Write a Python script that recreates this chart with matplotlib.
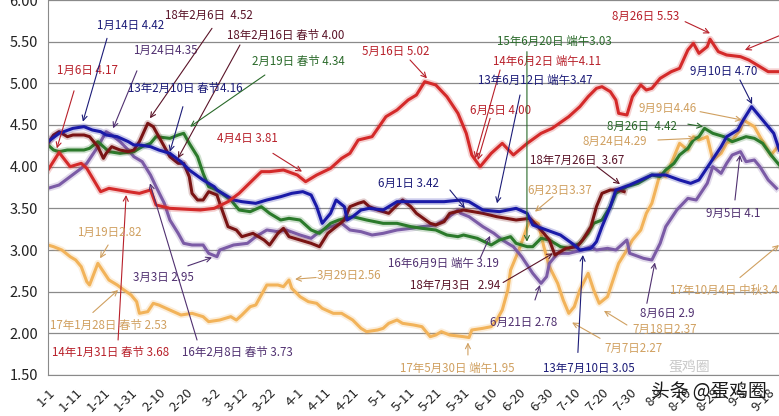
import matplotlib
matplotlib.use('Agg')
import matplotlib.pyplot as plt
import matplotlib.patheffects as pe

plt.rcParams['font.family'] = ['Noto Sans CJK SC', 'DejaVu Sans']

# x axis: day of year counted from 1-1, labels every 10 days
tick_labels = ['1-1', '1-11', '1-21', '1-31', '2-10', '2-20', '3-2', '3-12', '3-22',
               '4-1', '4-11', '4-21', '5-1', '5-11', '5-21', '5-31', '6-10', '6-20',
               '6-30', '7-10', '7-20', '7-30', '8-9', '8-19', '8-29', '9-8', '9-18']
y_ticks = [1.5, 2.0, 2.5, 3.0, 3.5, 4.0, 4.5, 5.0, 5.5, 6.0]

# 2014 (red)
days_2014 = [0, 4, 8, 12, 14, 19, 22, 29, 33, 37,
             39, 44, 55, 60, 65, 69, 77, 80, 85, 90,
             93, 97, 102, 106, 109, 112, 117, 122, 126, 130,
             133, 136, 140, 144, 148, 151, 153, 156, 160, 164,
             168, 173, 178, 182, 188, 192, 195, 198, 200, 203,
             205, 206, 209, 211, 214, 216, 218, 221, 225, 228,
             231, 233, 235, 238, 239, 242, 245, 250, 253, 257,
             260, 264]
price_2014 = [3.96, 4.17, 4.00, 4.04, 3.98, 3.70, 3.74, 3.70, 3.68, 3.72,
              3.54, 3.50, 3.48, 3.50, 3.58, 3.68, 3.94, 3.94, 3.96, 3.90,
              3.82, 3.90, 3.98, 4.10, 4.16, 4.32, 4.36, 4.60, 4.68, 4.80,
              4.86, 5.02, 4.98, 4.84, 4.64, 4.40, 4.14, 4.00, 4.16, 4.28,
              4.14, 4.28, 4.40, 4.46, 4.60, 4.72, 4.84, 4.94, 4.96, 4.90,
              4.80, 4.64, 4.62, 4.84, 4.98, 4.92, 4.94, 5.06, 5.14, 5.18,
              5.40, 5.48, 5.36, 5.44, 5.53, 5.38, 5.34, 5.32, 5.28, 5.20,
              5.14, 5.14]

# 2013 (navy)
days_2013 = [0, 4, 9, 13, 16, 19, 21, 25, 29, 31,
             33, 37, 40, 44, 48, 51, 56, 60, 61, 67,
             70, 75, 79, 84, 88, 92, 95, 97, 99, 102,
             104, 107, 108, 110, 113, 116, 121, 126, 131, 143,
             149, 152, 157, 163, 169, 173, 175, 180, 185, 190,
             192, 196, 198, 200, 203, 205, 210, 214, 218, 223,
             228, 232, 235, 239, 243, 245, 249, 251, 254, 257,
             260, 262, 264]
price_2013 = [4.30, 4.40, 4.46, 4.48, 4.44, 4.42, 4.38, 4.36, 4.30, 4.26,
              4.26, 4.24, 4.20, 4.16, 4.06, 3.96, 3.84, 3.76, 3.72, 3.60,
              3.58, 3.56, 3.60, 3.64, 3.68, 3.70, 3.66, 3.52, 3.32, 3.44,
              3.60, 3.52, 3.36, 3.40, 3.48, 3.50, 3.48, 3.58, 3.58, 3.58,
              3.60, 3.58, 3.48, 3.46, 3.50, 3.44, 3.30, 3.24, 3.18, 3.06,
              3.00, 3.02, 3.10, 3.28, 3.52, 3.72, 3.78, 3.84, 3.90, 3.90,
              3.84, 3.80, 3.84, 4.04, 4.24, 4.36, 4.44, 4.56, 4.72, 4.60,
              4.48, 4.40, 4.20]

# 2018 (maroon)
days_2018 = [0, 2, 4, 7, 9, 13, 15, 18, 20, 21,
             23, 26, 29, 31, 33, 36, 38, 40, 42, 44,
             47, 49, 51, 52, 54, 56, 58, 61, 62, 65,
             68, 70, 74, 78, 80, 83, 85, 87, 91, 95,
             98, 101, 104, 107, 109, 112, 114, 116, 119, 123,
             126, 128, 131, 133, 138, 140, 143, 145, 150, 157,
             162, 169, 174, 178, 181, 183, 187, 191, 193, 196,
             198, 200, 203, 206, 208]
price_2018 = [4.28, 4.38, 4.42, 4.36, 4.38, 4.38, 4.36, 4.24, 4.10, 4.16,
              4.24, 4.20, 4.18, 4.20, 4.30, 4.52, 4.48, 4.36, 4.24, 4.12,
              4.04, 4.04, 3.88, 3.68, 3.60, 3.60, 3.70, 3.66, 3.56, 3.28,
              3.24, 3.16, 3.20, 3.12, 3.06, 3.20, 3.26, 3.16, 3.12, 3.08,
              3.04, 3.20, 3.28, 3.36, 3.52, 3.56, 3.58, 3.52, 3.48, 3.44,
              3.54, 3.60, 3.52, 3.44, 3.32, 3.30, 3.34, 3.44, 3.48, 3.44,
              3.40, 3.36, 3.38, 3.24, 3.12, 2.94, 3.02, 3.04, 3.12, 3.28,
              3.52, 3.68, 3.72, 3.72, 3.70]

# 2015 (green)
days_2015 = [0, 2, 4, 7, 13, 15, 18, 20, 22, 26,
             31, 34, 37, 39, 44, 47, 49, 51, 54, 56,
             58, 61, 66, 69, 73, 77, 80, 84, 87, 91,
             95, 98, 102, 105, 110, 115, 121, 126, 131, 135,
             140, 144, 148, 150, 155, 160, 163, 167, 169, 173,
             175, 178, 181, 185, 188, 192, 195, 197, 200, 203,
             205, 209, 213, 218, 221, 223, 226, 228, 231, 233,
             235, 237, 240, 244, 247, 252, 255, 258, 261, 264]
price_2015 = [4.26, 4.20, 4.18, 4.20, 4.20, 4.22, 4.30, 4.24, 4.18, 4.16,
              4.18, 4.24, 4.28, 4.36, 4.34, 4.38, 4.40, 4.28, 4.12, 3.92,
              3.76, 3.72, 3.60, 3.48, 3.46, 3.52, 3.44, 3.36, 3.38, 3.36,
              3.24, 3.20, 3.32, 3.36, 3.40, 3.36, 3.32, 3.32, 3.28, 3.26,
              3.24, 3.18, 3.16, 3.18, 3.14, 3.06, 3.12, 3.16, 3.08, 3.04,
              3.04, 3.14, 3.12, 3.04, 3.02, 3.08, 3.20, 3.32, 3.36, 3.52,
              3.68, 3.76, 3.80, 3.90, 3.88, 3.96, 4.04, 4.14, 4.22, 4.32,
              4.36, 4.46, 4.40, 4.36, 4.30, 4.36, 4.34, 4.28, 4.14, 4.02]

# 2016 (purple)
days_2016 = [0, 4, 8, 12, 14, 18, 20, 21, 23, 26,
             29, 31, 34, 37, 39, 42, 44, 47, 49, 52,
             56, 58, 61, 62, 67, 72, 75, 79, 83, 86,
             91, 95, 98, 102, 106, 109, 113, 117, 121, 126,
             131, 135, 140, 144, 148, 149, 152, 157, 161, 164,
             168, 171, 175, 178, 180, 181, 184, 188, 193, 196,
             198, 202, 205, 209, 210, 215, 218, 221, 223, 227,
             231, 234, 238, 240, 243, 245, 247, 250, 252, 255,
             257, 260, 263]
price_2016 = [3.74, 3.78, 3.88, 3.98, 4.04, 4.24, 4.36, 4.42, 4.38, 4.30,
              4.20, 4.12, 4.06, 3.90, 3.76, 3.56, 3.36, 3.20, 3.08, 3.06,
              3.06, 2.96, 2.92, 3.00, 3.06, 3.08, 3.16, 3.24, 3.22, 3.24,
              3.18, 3.14, 3.22, 3.28, 3.32, 3.24, 3.22, 3.18, 3.20, 3.24,
              3.26, 3.28, 3.30, 3.38, 3.48, 3.44, 3.40, 3.28, 3.20, 3.12,
              3.04, 2.92, 2.72, 2.60, 2.68, 2.84, 2.96, 2.96, 3.00, 3.04,
              3.00, 3.02, 3.00, 3.12, 2.96, 2.90, 2.88, 3.08, 3.28, 3.48,
              3.62, 3.60, 3.80, 4.00, 3.92, 4.04, 4.14, 4.18, 4.06, 4.08,
              4.00, 3.84, 3.74]

# 2017 (orange)
days_2017 = [0, 2, 5, 8, 10, 12, 14, 15, 18, 20,
             22, 25, 27, 30, 32, 33, 36, 38, 40, 44,
             48, 52, 56, 58, 62, 66, 68, 70, 73, 75,
             78, 79, 83, 85, 87, 88, 91, 94, 97, 99,
             103, 106, 110, 113, 115, 119, 121, 123, 126, 128,
             132, 135, 138, 140, 142, 145, 150, 152, 153, 157,
             160, 162, 164, 166, 167, 170, 173, 174, 177, 179,
             181, 184, 186, 188, 190, 192, 195, 197, 199, 202,
             204, 206, 209, 211, 214, 216, 218, 221, 223, 226,
             228, 231, 233, 235, 238, 240, 243, 245, 247, 250,
             251, 255, 257, 261, 264]
price_2017 = [3.06, 3.04, 3.00, 2.92, 2.88, 2.80, 2.62, 2.58, 2.84, 2.74,
              2.64, 2.58, 2.53, 2.46, 2.38, 2.24, 2.26, 2.36, 2.34, 2.28,
              2.22, 2.24, 2.20, 2.14, 2.16, 2.20, 2.16, 2.22, 2.32, 2.34,
              2.52, 2.58, 2.58, 2.56, 2.64, 2.54, 2.44, 2.38, 2.36, 2.30,
              2.24, 2.24, 2.16, 2.06, 2.02, 2.04, 2.06, 2.12, 2.16, 2.12,
              2.10, 2.08, 1.96, 1.98, 2.02, 1.98, 1.96, 1.95, 2.04, 2.06,
              2.08, 2.16, 2.28, 2.52, 2.76, 3.00, 3.28, 3.36, 3.32, 3.04,
              2.80, 2.60, 2.40, 2.24, 2.32, 2.52, 2.72, 2.52, 2.36, 2.44,
              2.64, 2.84, 3.00, 3.12, 3.24, 3.44, 3.56, 3.92, 3.88, 4.12,
              4.28, 4.20, 4.36, 4.32, 4.36, 4.08, 4.16, 4.28, 4.32, 4.44,
              4.56, 4.48, 4.36, 4.14, 4.26]

# text colours for the callouts
c_red, c_navy, c_maroon = '#b8202a', '#1c1c78', '#5a1428'
c_green, c_purple, c_tan = '#2a6a2a', '#503070', '#d0a060'

# callouts: text, colour, text position, arrow start, arrow end (day, price)
notes = [
    ('1月6日 4.17', c_red, (3.2, 5.16), (9.4, 4.91), (3.2, 4.22)),
    ('1月14日 4.42', c_navy, (17.7, 5.70), (21.3, 5.54), (12.6, 4.54)),
    ('1月24日4.35', c_purple, (30.7, 5.40), (32.1, 5.15), (23.5, 4.46)),
    ('18年2月6日  4.52', c_maroon, (42.2, 5.82), (59.2, 5.66), (36.8, 4.58)),
    ('18年2月16日 春节 4.00', c_maroon, (64.6, 5.58), (69.3, 5.46), (46.9, 4.10)),
    ('13年2月10日 春节4.16', c_navy, (28.9, 4.94), (48.7, 4.72), (44.0, 4.18)),
    ('2月19日 春节 4.34', c_green, (73.6, 5.26), (78.3, 5.10), (51.3, 4.48)),
    ('4月4日 3.81', c_red, (61.0, 4.34), (81.2, 4.16), (91.7, 3.94)),
    ('5月16日 5.02', c_red, (113.4, 5.38), (130.7, 5.28), (136.8, 5.06)),
    ('6月5日 4.00', c_red, (152.3, 4.68), (159.6, 4.58), (155.2, 4.08)),
    ('14年6月2日 端午4.11', c_red, (160.6, 5.26), (163.2, 5.16), (154.2, 4.10)),
    ('13年6月12日 端午3.47', c_navy, (155.2, 5.04), (170.4, 4.86), (162.1, 3.56)),
    ('15年6月20日 端午3.03', c_green, (162.0, 5.50), (172.9, 5.38), (172.9, 3.10)),
    ('6月1日 3.42', c_navy, (119.0, 3.80), (145.1, 3.72), (150.5, 3.50)),
    ('16年6月9日 端午 3.19', c_purple, (122.7, 2.84), (156.0, 2.90), (159.6, 3.17)),
    ('18年7月26日  3.67', c_maroon, (174.0, 4.08), (198.2, 4.00), (206.5, 3.79)),
    ('6月23日3.37', c_tan, (173.0, 3.71), (182.3, 3.64), (175.8, 3.46)),
    ('18年7月3日   2.94', c_maroon, (130.7, 2.57), (164.3, 2.61), (182.3, 2.96)),
    ('6月21日 2.78', c_purple, (159.6, 2.13), (175.8, 2.40), (177.6, 2.58)),
    ('7月7日2.27', c_tan, (201.0, 1.82), (199.3, 1.94), (189.2, 2.13)),
    ('7月18日2.37', c_tan, (211.0, 2.05), (209.0, 2.10), (200.7, 2.27)),
    ('13年7月10日 3.05', c_navy, (178.7, 1.58), (191.3, 1.77), (193.1, 2.94)),
    ('8月6日 2.9', c_purple, (213.7, 2.24), (216.2, 2.36), (219.1, 2.85)),
    ('17年10月4日 中秋3.4', c_tan, (224.5, 2.51), (249.8, 2.67), (263.9, 3.06)),
    ('9月5日 4.1', c_purple, (237.5, 3.44), (248.0, 3.60), (249.8, 4.14)),
    ('9月9日4.46', c_tan, (213.0, 4.70), (235.4, 4.66), (250.5, 4.56)),
    ('8月26日  4.42', c_green, (201.8, 4.48), (231.0, 4.51), (236.5, 4.48)),
    ('8月24日4.29', c_tan, (192.8, 4.30), (220.2, 4.32), (233.6, 4.34)),
    ('9月10日 4.70', c_navy, (231.8, 5.14), (249.8, 5.04), (254.2, 4.75)),
    ('8月26日 5.53', c_red, (203.6, 5.80), (230.0, 5.74), (239.0, 5.60)),
    ('', c_red, (263.9, 5.57), (263.9, 5.57), (251.6, 5.40)),
    ('3月3日 2.95', c_purple, (30.7, 2.67), (50.5, 2.81), (59.2, 2.91)),
    ('3月29日2.56', c_tan, (97.1, 2.69), (96.8, 2.67), (89.2, 2.65)),
    ('17年1月28日 春节 2.53', c_tan, (0.7, 2.10), (16.2, 2.25), (25.3, 2.52)),
    ('14年1月31日 春节 3.68', c_red, (1.4, 1.77), (25.3, 1.92), (28.2, 3.66)),
    ('16年2月8日 春节 3.73', c_purple, (48.4, 1.77), (53.8, 1.92), (36.8, 3.80)),
    ('1月19日2.82', c_tan, (10.5, 3.21), (21.7, 3.06), (18.8, 2.90)),
    ('17年5月30日 端午1.95', c_tan, (127.0, 1.58), (151.6, 1.74), (151.6, 1.89)),
]

fig = plt.figure(figsize=(7.79, 4.16), dpi=100)
ax = fig.add_axes([48 / 779, 41 / 416, 731 / 779, 375 / 416])

series = [
    (days_2017, price_2017, '#f2b35a'),
    (days_2016, price_2016, '#7b5ba6'),
    (days_2015, price_2015, '#2b7a2b'),
    (days_2018, price_2018, '#7a1414'),
    (days_2013, price_2013, '#1a1aa8'),
    (days_2014, price_2014, '#d42a2a'),
]
for days, prices, color in series:
    ax.plot(days, prices, color=color, linewidth=2.2, solid_joinstyle='round',
            path_effects=[pe.Stroke(linewidth=4.8, foreground=color, alpha=0.22), pe.Normal()])

# callout texts and arrows
for text, color, txt_pos, start, end in notes:
    if text:
        ax.text(txt_pos[0], txt_pos[1], text, color=color, fontsize=8.3,
                ha='left', va='center')
    ax.annotate('', xy=end, xytext=start,
                arrowprops=dict(arrowstyle='->', color=color, lw=0.8,
                                shrinkA=0, shrinkB=0, mutation_scale=9))

# axes, grid and ticks
ax.set_xlim(0, 263.9)
ax.set_ylim(1.5, 6.0)
ax.set_yticks(y_ticks)
ax.set_yticklabels([f'{v:.2f}' for v in y_ticks], fontsize=10.5)
ax.set_xticks([i * 10 for i in range(len(tick_labels))])
ax.set_xticklabels(tick_labels, rotation=45, ha='right', rotation_mode='anchor', fontsize=9.5)
ax.tick_params(axis='both', length=0, colors='#222222')
ax.tick_params(axis='x', pad=8)
ax.tick_params(axis='y', pad=7)
ax.grid(axis='y', color='#8a8a8a', linewidth=0.9)
ax.set_axisbelow(True)
for side in ['top', 'right']:
    ax.spines[side].set_visible(False)
for side in ['left', 'bottom']:
    ax.spines[side].set_color('#8a8a8a')

# watermark
fig.text(0.885, 0.116, '蛋鸡圈', fontsize=10, color='#c8c8c8', ha='center', va='center')
fig.text(0.91, 0.058, '头条 @蛋鸡圈', fontsize=13.5, color='#1a1a1a', ha='center', va='center')

fig.savefig('out.png', dpi=100)
